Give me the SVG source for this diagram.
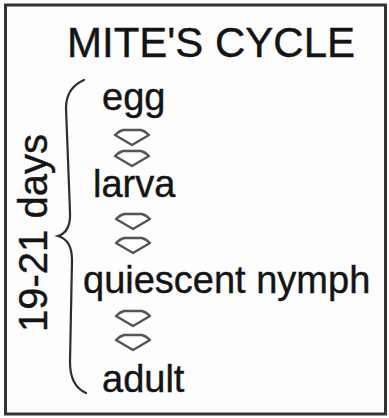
<svg xmlns="http://www.w3.org/2000/svg" width="389" height="418" viewBox="0 0 389 418">
  <style>
    text { font-family: "Liberation Sans", Arial, sans-serif; fill: #141414; stroke: #141414; stroke-width: 0.4; }
    .stage { font-size: 38px; }
    .title { font-size: 42px; }
    .days { font-size: 40px; }
    .arrow { fill: #ffffff; stroke: #555555; stroke-width: 2.4; stroke-linejoin: round; }
    .brace { fill: none; stroke: #2e2e2e; stroke-width: 2.2; stroke-linecap: round; }
  </style>
  <defs>
    <path id="chev" class="arrow" d="M-9,0 L9,0 Q13,1 17,5 L0,15 L-17,5 Q-13,1 -9,0 Z"/>
  </defs>
  <rect x="0" y="0" width="389" height="418" fill="#ffffff"/>
  <rect id="frame" x="5.5" y="5" width="380" height="409" fill="#fdfdfd" stroke="#333333" stroke-width="3"/>
  <g id="title"><text class="title" x="67" y="57">MITE'S CYCLE</text></g>
  <g id="duration">
    <path class="brace" d="M84,80 Q66,88 66,108 L70,212 Q71,232 58,236 Q72,240 72,260 L70,362 Q70,386 86,393"/>
    <text class="days" transform="translate(47,332) rotate(-90)">19-21 days</text>
  </g>
  <g id="egg"><text class="stage" x="102" y="110">egg</text></g>
  <g id="larva"><text class="stage" x="93" y="197">larva</text></g>
  <g id="nymph"><text class="stage" x="83" y="293">quiescent nymph</text></g>
  <g id="adult"><text class="stage" x="102" y="392">adult</text></g>
  <g id="connectors">
    <use href="#chev" x="132" y="130"/>
    <use href="#chev" x="132" y="151"/>
    <use href="#chev" x="133" y="214"/>
    <use href="#chev" x="133" y="238"/>
    <use href="#chev" x="133" y="311"/>
    <use href="#chev" x="133" y="335"/>
  </g>
</svg>
